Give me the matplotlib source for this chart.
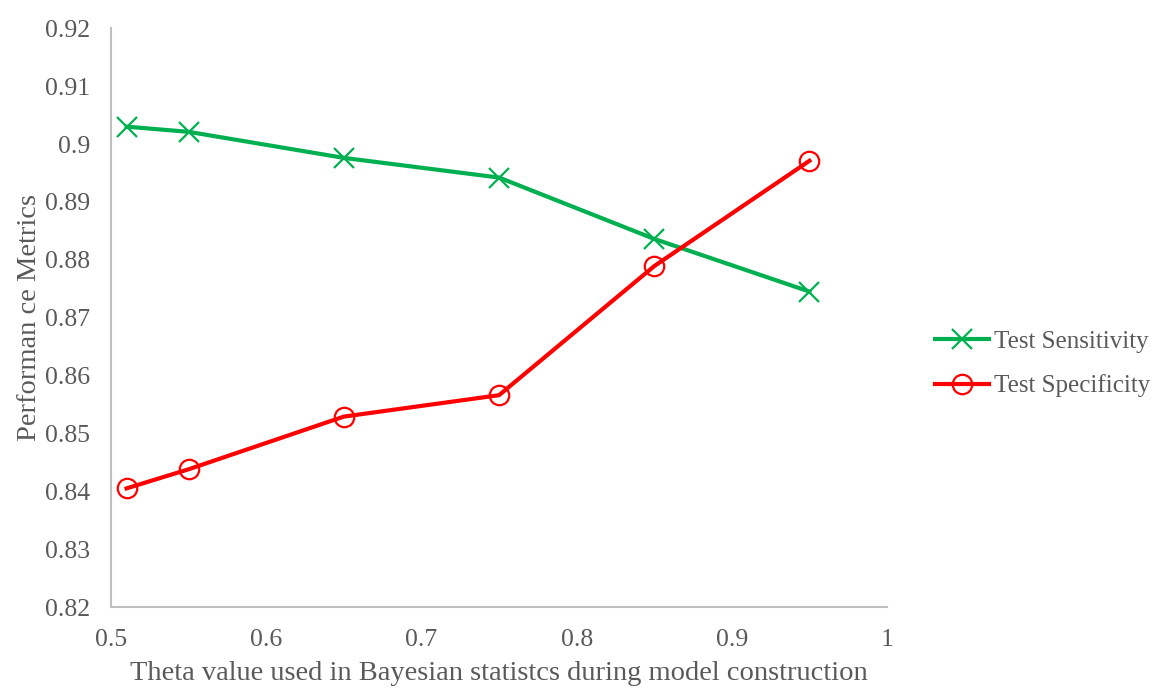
import matplotlib.pyplot as plt

theta = [0.51, 0.55, 0.65, 0.75, 0.85, 0.95]
sensitivity = [0.9030, 0.9021, 0.8976, 0.8942, 0.8836, 0.8745]
specificity = [0.8405, 0.8438, 0.8529, 0.8566, 0.8789, 0.8971]

xticks = [0.5, 0.6, 0.7, 0.8, 0.9, 1.0]
xtick_labels = ["0.5", "0.6", "0.7", "0.8", "0.9", "1"]
yticks = [0.82, 0.83, 0.84, 0.85, 0.86, 0.87, 0.88, 0.89, 0.9, 0.91, 0.92]
ytick_labels = ["0.82", "0.83", "0.84", "0.85", "0.86", "0.87", "0.88", "0.89", "0.9", "0.91", "0.92"]

plt.rcParams['font.family'] = ['Liberation Serif', 'DejaVu Serif']
text_color = '#595959'

fig = plt.figure(figsize=(11.52, 6.89), dpi=100)
ax = fig.add_axes([0.0964, 0.119, 0.6736, 0.840])

ax.plot(theta, sensitivity, color='#00B050', linewidth=3, marker='x',
        markersize=15, markeredgewidth=1.6, label='Test Sensitivity')
ax.plot(theta, specificity, color='#FF0000', linewidth=3, marker='o',
        markersize=14, markerfacecolor='none', markeredgewidth=1.6,
        label='Test Specificity')

ax.set_xlim(0.5, 1.0)
ax.set_ylim(0.82, 0.92)
ax.set_xticks(xticks, xtick_labels)
ax.set_yticks(yticks, ytick_labels)
ax.tick_params(length=0, labelsize=18.5, colors=text_color)
ax.tick_params(axis='y', pad=15)
ax.tick_params(axis='x', pad=16)

for side in ['top', 'right']:
    ax.spines[side].set_visible(False)
for side in ['left', 'bottom']:
    ax.spines[side].set_color('#BFBFBF')
    ax.spines[side].set_linewidth(1.5)

ax.set_xlabel("Theta value used in Bayesian statistcs during model construction",
              fontsize=20.5, color=text_color, labelpad=7)
ax.set_ylabel("Performan ce Metrics", fontsize=20.5, color=text_color, labelpad=2)

leg = ax.legend(loc='center left', bbox_to_anchor=(1.062, 0.42), frameon=False,
                fontsize=18, handlelength=2.15, labelspacing=0.85,
                handletextpad=0.2, borderpad=0, borderaxespad=0)
for t in leg.get_texts():
    t.set_color(text_color)

fig.savefig('out.png', dpi=100)
